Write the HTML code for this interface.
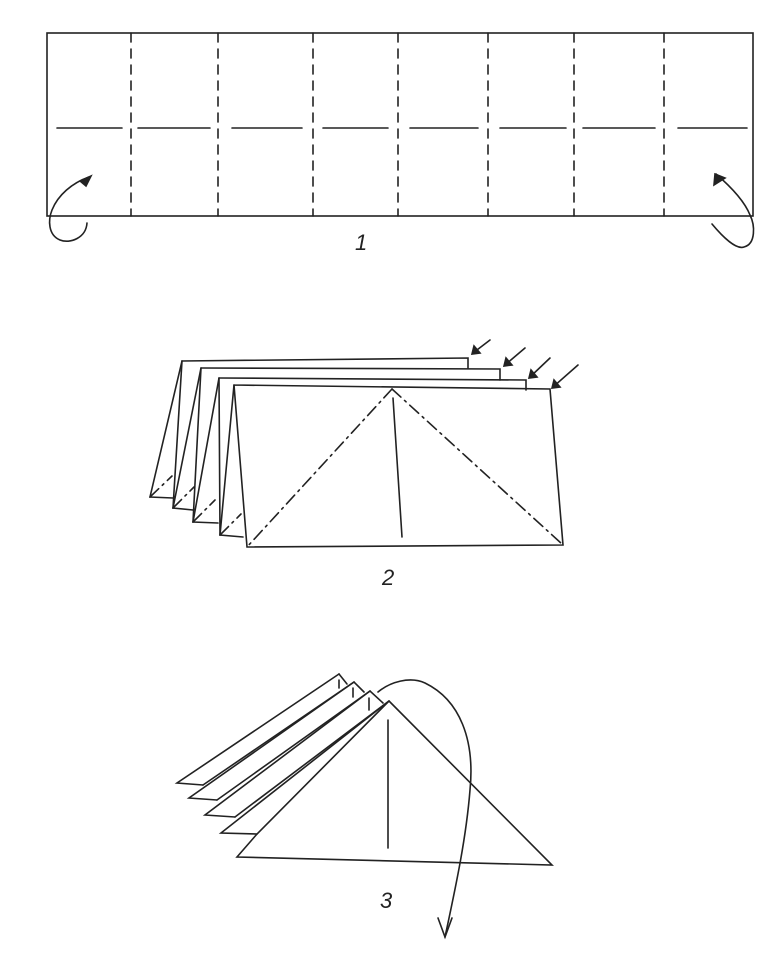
<!DOCTYPE html>
<html><head><meta charset="utf-8"><style>
html,body{margin:0;padding:0;background:#fff;}
svg{display:block;}
text{font-family:"Liberation Sans",sans-serif;font-style:italic;font-size:22px;fill:#222;stroke:none;}
</style></head><body>
<svg width="777" height="974" viewBox="0 0 777 974" xmlns="http://www.w3.org/2000/svg" fill="none" stroke="#222" stroke-width="1.6" stroke-linecap="round">
<!-- Diagram 1 -->
<rect x="47" y="33" width="706" height="183"/>
<g stroke-dasharray="9,7">
<line x1="131" y1="33" x2="131" y2="216"/>
<line x1="218" y1="33" x2="218" y2="216"/>
<line x1="313" y1="33" x2="313" y2="216"/>
<line x1="398" y1="33" x2="398" y2="216"/>
<line x1="488" y1="33" x2="488" y2="216"/>
<line x1="574" y1="33" x2="574" y2="216"/>
<line x1="664" y1="33" x2="664" y2="216"/>
</g>
<g>
<line x1="57" y1="128" x2="122" y2="128"/>
<line x1="138" y1="128" x2="210" y2="128"/>
<line x1="232" y1="128" x2="302" y2="128"/>
<line x1="323" y1="128" x2="388" y2="128"/>
<line x1="410" y1="128" x2="478" y2="128"/>
<line x1="500" y1="128" x2="566" y2="128"/>
<line x1="583" y1="128" x2="655" y2="128"/>
<line x1="678" y1="128" x2="747" y2="128"/>
</g>
<path d="M87 223 C86 238 70 244 60 240 C48 235 48 220 52 210 C58 195 72 183 89 177"/>
<path d="M80 181 L91 176 L86 186 Z" fill="#222"/>
<path d="M712 224 C722 236 736 250 744 247 C756 244 755 225 750 215 C744 200 730 186 716 174"/>
<path d="M714 185 L715 174 L725 178 Z" fill="#222"/>
<text x="355" y="250">1</text>
<!-- Diagram 2 -->
<g>
<path d="M182 361 L468 358 L468 368"/>
<path d="M201 368 L500 369 L500 380"/>
<path d="M219 378 L526 380 L526 390"/>
<path d="M234 385 L550 389 L563 545 L247 547 L234 385"/>
<path d="M182 361 L150 497 L173 498"/>
<path d="M182 361 L173 508 L193 510"/>
<path d="M201 368 L173 508"/>
<path d="M201 368 L193 522 L218 523"/>
<path d="M219 378 L193 522"/>
<path d="M219 378 L220 535 L243 537"/>
<path d="M234 385 L220 535"/>
<line x1="393" y1="398" x2="402" y2="537"/>
</g>
<g stroke-dasharray="12,5,2,5">
<line x1="392" y1="389" x2="247" y2="547"/>
<line x1="392" y1="389" x2="562" y2="544"/>
<line x1="150" y1="497" x2="172" y2="476"/>
<line x1="173" y1="508" x2="194" y2="487"/>
<line x1="193" y1="522" x2="215" y2="500"/>
<line x1="220" y1="535" x2="241" y2="514"/>
</g>
<g>
<line x1="490" y1="340" x2="473" y2="353"/><path d="M474 346 L472 354 L480 353 Z" fill="#222"/>
<line x1="525" y1="348" x2="505" y2="365"/><path d="M506 358 L504 366 L512 365 Z" fill="#222"/>
<line x1="550" y1="358" x2="530" y2="377"/><path d="M531 370 L529 378 L537 377 Z" fill="#222"/>
<line x1="578" y1="365" x2="553" y2="387"/><path d="M554 380 L552 388 L560 387 Z" fill="#222"/>
</g>
<text x="382" y="585">2</text>
<!-- Diagram 3 -->
<g>
<path d="M339 674 L177 783 L203 785"/>
<path d="M339 674 L347 684"/>
<path d="M354 682 L189 798 L217 800"/>
<path d="M203 785 L354 682 L364 692"/>
<path d="M370 691 L205 815 L235 817"/>
<path d="M217 800 L370 691 L383 703"/>
<path d="M389 701 L221 833 L257 834"/>
<path d="M235 817 L389 701"/>
<path d="M389 701 L552 865 L237 857 L257 834 L389 701"/>
<line x1="388" y1="720" x2="388" y2="848"/>
<line x1="339" y1="680" x2="339" y2="688"/>
<line x1="353" y1="688" x2="353" y2="697"/>
<line x1="369" y1="698" x2="369" y2="710"/>
<path d="M378 692 C390 682 410 676 425 683 C460 700 475 740 470 790 C466 840 455 890 445 937"/>
<path d="M438 918 L445 937 L452 918"/>
</g>
<text x="380" y="908">3</text>
</svg>
</body></html>
